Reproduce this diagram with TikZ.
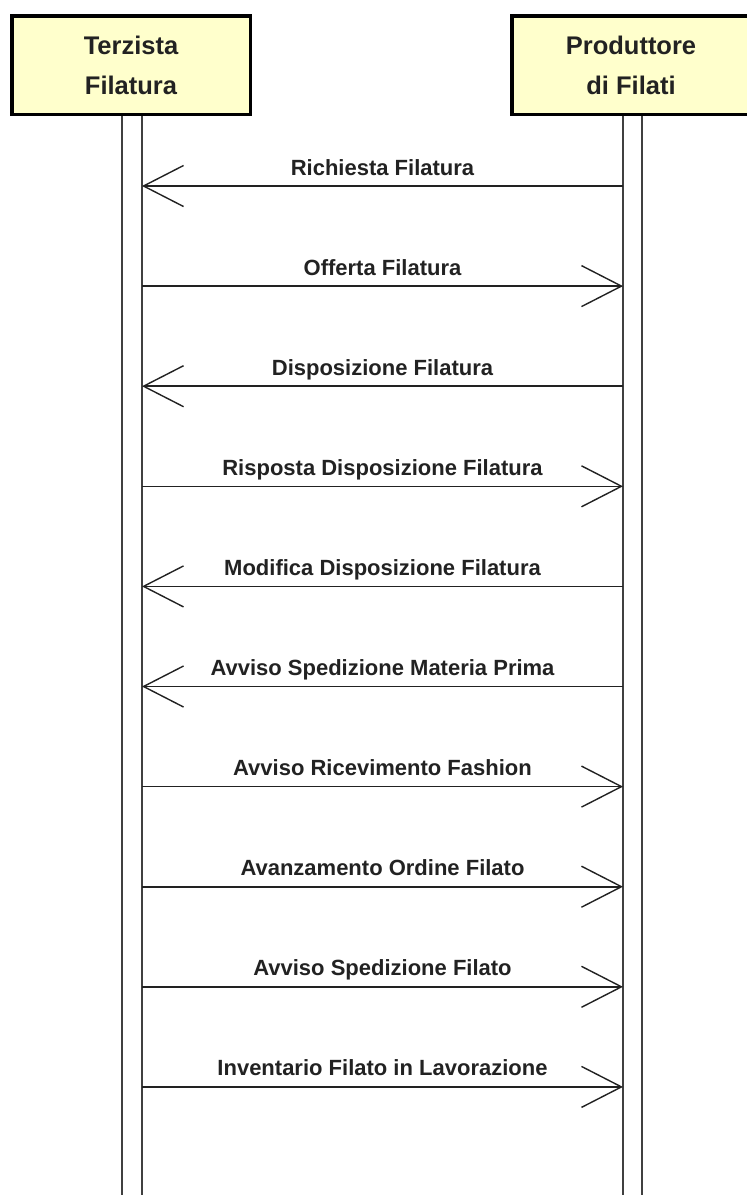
\documentclass[tikz,border=0pt]{standalone}
\usepackage{fontspec}
\setmainfont{Liberation Sans}
\usetikzlibrary{arrows.meta}
\definecolor{boxfill}{HTML}{FFFFCC}
\definecolor{ink}{HTML}{222222}
\begin{document}
\begin{tikzpicture}[x=1pt,y=-1pt,
  actor/.style={draw=black, line width=3.5pt, fill=boxfill, minimum width=238.5pt, minimum height=98.5pt, inner sep=0pt, align=center, font=\fontsize{25.5}{40}\selectfont\bfseries, text=ink},
  lifeline/.style={draw=black!75, line width=2.3pt},
  msg/.style={draw=ink, line width=1.6pt, -{Straight Barb[length=40pt,width=41pt,line width=1.4pt]}},
  msglabel/.style={anchor=base, inner sep=0pt, font=\fontsize{22}{26}\selectfont\bfseries, text=ink}]
\useasboundingbox (0,0) rectangle (747,1195);
\fill[white] (0,0) rectangle (747,1195);
% lifeline end coordinates
\coordinate (Ta) at (122,1195);
\coordinate (Tb) at (142,1195);
\coordinate (Pa) at (623,1195);
\coordinate (Pb) at (642,1195);
\draw[lifeline] (122,110) -- (Ta);
\draw[lifeline] (142,110) -- (Tb);
\draw[lifeline] (623,110) -- (Pa);
\draw[lifeline] (642,110) -- (Pb);
% actors
\node[actor] (T) at (131,65) {Terzista\\Filatura};
\node[actor] (P) at (631,65) {Produttore\\di Filati};
% messages from Produttore to Terzista
\foreach \k/\t in {0/Richiesta Filatura, 2/Disposizione Filatura, 4/Modifica Disposizione Filatura, 5/Avviso Spedizione Materia Prima} {
  \coordinate (L\k) at (142,{186+100.1*\k});
  \coordinate (R\k) at (623,{186+100.1*\k});
  \draw[msg] (R\k) -- (L\k);
  \node[msglabel] (m\k) at (382.5,{186+100.1*\k-11}) {\t};
}
% messages from Terzista to Produttore
\foreach \k/\t in {1/Offerta Filatura, 3/Risposta Disposizione Filatura, 6/Avviso Ricevimento Fashion, 7/Avanzamento Ordine Filato, 8/Avviso Spedizione Filato, 9/Inventario Filato in Lavorazione} {
  \coordinate (L\k) at (142,{186+100.1*\k});
  \coordinate (R\k) at (623,{186+100.1*\k});
  \draw[msg] (L\k) -- (R\k);
  \node[msglabel] (m\k) at (382.5,{186+100.1*\k-11}) {\t};
}
\end{tikzpicture}
\end{document}
